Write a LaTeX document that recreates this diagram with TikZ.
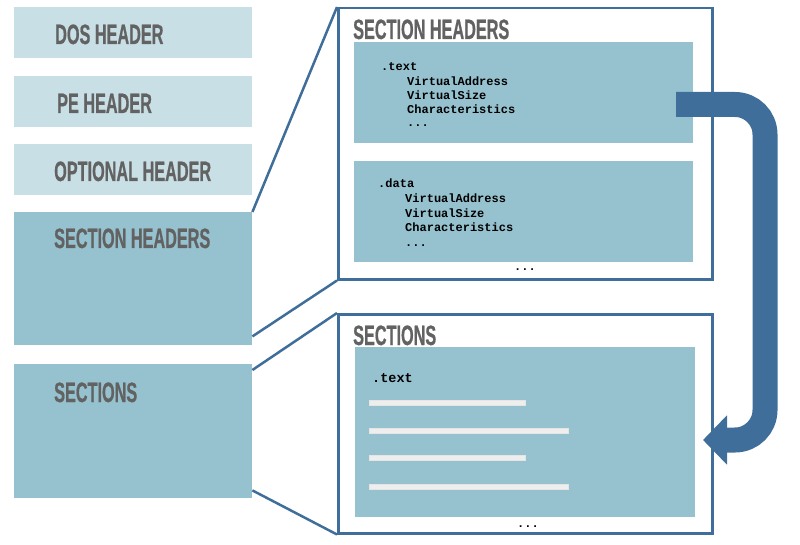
\documentclass[tikz,border=0pt]{standalone}
\usepackage{fontspec}
\newfontfamily\capsfont[FakeStretch=0.58,FakeBold=0.6]{Liberation Sans}
\newfontfamily\codefont{Liberation Mono}
\usetikzlibrary{arrows.meta}
\definecolor{paleblue}{HTML}{C8DFE5}
\definecolor{tealblue}{HTML}{96C2CF}
\definecolor{frameblue}{HTML}{3F6E9A}
\definecolor{labelgray}{HTML}{626262}
\definecolor{barwhite}{HTML}{EEEEEE}
\tikzset{
	hdrbox/.style={fill=paleblue, inner sep=0, minimum width=238pt, anchor=north west},
	tealbox/.style={fill=tealblue, inner sep=0, anchor=north west},
	framebox/.style={draw=frameblue, line width=2.5pt, inner sep=0, minimum width=374pt, anchor=north west},
	caplabel/.style={font=\capsfont\bfseries\fontsize{28}{28}\selectfont, text=labelgray, inner sep=0, anchor=base west},
	code/.style={font=\codefont\bfseries\fontsize{12}{14}\selectfont, inner sep=0, anchor=base west},
	bar/.style={fill=barwhite, draw=black!10, line width=0.4pt, inner sep=0, minimum height=5pt, anchor=west},
	link/.style={draw=frameblue, line width=2.5pt},
	bigarrow/.style={draw=frameblue, line width=25pt, rounded corners=30pt, -{Triangle[length=24pt,width=48pt]}}
}
\begin{document}
\begin{tikzpicture}[x=1pt, y=-1pt]
	\useasboundingbox (0,0) rectangle (800,545);
	% left column
	\foreach \nm\y in {dos/7,pe/76,opt/144}{
		\node[hdrbox, minimum height=51pt] (\nm) at (14,\y) {};
	}
	\node[tealbox, minimum width=238pt, minimum height=133pt] (shdr) at (14,212) {};
	\node[tealbox, minimum width=238pt, minimum height=134pt] (sec) at (14,364) {};
	\foreach \nm\x\y\txt in {dos/55/44/DOS HEADER,pe/57/113/PE HEADER,opt/54/181/OPTIONAL HEADER,shdr/54/248/SECTION HEADERS,sec/54/402/SECTIONS}{
		\node[caplabel] (lbl\nm) at (\x,\y) {\txt};
	}
	% section headers detail
	\node[tealbox, minimum width=339pt, minimum height=101pt] (txthdr) at (354,42) {};
	\node[tealbox, minimum width=339pt, minimum height=101pt] (datahdr) at (354,161) {};
	\node[caplabel] (shtitle) at (353,39) {SECTION HEADERS};
	\node[code] (txtname) at (381,71) {.text};
	\foreach \f[count=\i] in {VirtualAddress,VirtualSize,Characteristics}{
		\node[code] (txtfld\i) at (407,71+14.2*\i) {\f};
	}
	\node[code] (txtdots) at (407,127) {...};
	\node[code] (dataname) at (378,188) {.data};
	\foreach \f[count=\i] in {VirtualAddress,VirtualSize,Characteristics}{
		\node[code] (datafld\i) at (405,188+14.6*\i) {\f};
	}
	\node[code] (datadots) at (405,247) {...};
	\node[code, anchor=base] (shdots) at (525,270) {...};
	% sections detail
	\node[tealbox, minimum width=340pt, minimum height=170pt] (txtsec) at (355,347) {};
	\node[caplabel] (stitle) at (353,345) {SECTIONS};
	\node[code, font=\codefont\bfseries\fontsize{13.5}{14}\selectfont] (secname) at (372,382) {.text};
	\foreach \y\w[count=\i] in {403/156,431/199,458/156,487/199}{
		\node[bar, minimum width=\w pt] (bar\i) at (369,\y) {};
	}
	\node[code, anchor=base] (secdots) at (528,527) {...};
	% big arrow
	\coordinate (arrtail) at (676,104.5);
	\coordinate (arrtip) at (703,440);
	\draw[bigarrow] (arrtail) -- (765,104.5) -- (765,440) -- (arrtip);
	% frames and links
	\node[framebox, minimum height=271pt] (shframe) at (337,7) {};
	\node[framebox, minimum height=219pt] (secframe) at (337,313) {};
	\draw[link] (shdr.north east) -- (shframe.north west);
	\draw[link] ([yshift=9pt]shdr.south east) -- (shframe.south west);
	\draw[link] ([yshift=-6pt]sec.north east) -- (secframe.north west);
	\draw[link] ([yshift=8pt]sec.south east) -- (secframe.south west);
\end{tikzpicture}
\end{document}
